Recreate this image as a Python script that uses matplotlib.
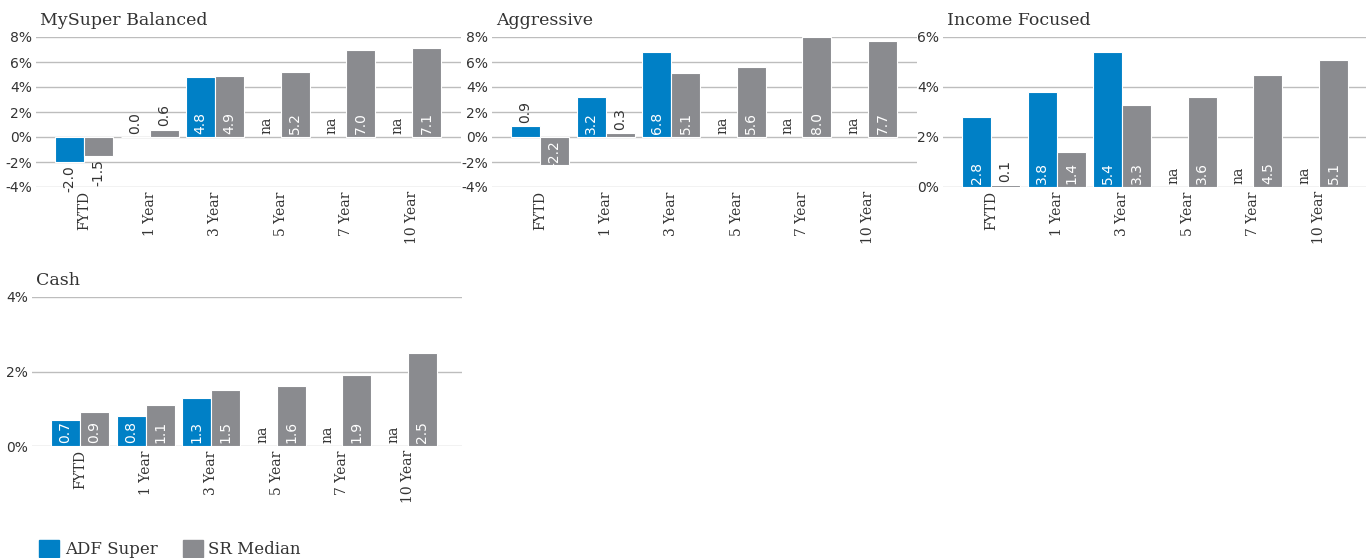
import matplotlib
matplotlib.use('Agg')
import matplotlib.pyplot as plt
from matplotlib.patches import Patch
import numpy as np

# data (na = not available)
periods = ['FYTD', '1 Year', '3 Year', '5 Year', '7 Year', '10 Year']
na = np.nan
balanced_adf = [-2.0, 0.0, 4.8, na, na, na]
balanced_sr = [-1.5, 0.6, 4.9, 5.2, 7.0, 7.1]
aggressive_adf = [0.9, 3.2, 6.8, na, na, na]
aggressive_sr = [-2.2, 0.3, 5.1, 5.6, 8.0, 7.7]
income_adf = [2.8, 3.8, 5.4, na, na, na]
income_sr = [0.1, 1.4, 3.3, 3.6, 4.5, 5.1]
cash_adf = [0.7, 0.8, 1.3, na, na, na]
cash_sr = [0.9, 1.1, 1.5, 1.6, 1.9, 2.5]

blue = '#0080c6'
grey = '#8a8b8f'
dark = '#333333'
serif = 'DejaVu Serif'
sans = 'DejaVu Sans'

W, H = 1366, 558
fig = plt.figure(figsize=(W / 100, H / 100), dpi=100)

# name, adf, sr, (left, top, width, height) in px, ylim, yticks
panels = [
    ('MySuper Balanced', balanced_adf, balanced_sr, (36, 37, 425, 150), (-4, 8), [-4, -2, 0, 2, 4, 6, 8]),
    ('Aggressive', aggressive_adf, aggressive_sr, (492, 37, 425, 150), (-4, 8), [-4, -2, 0, 2, 4, 6, 8]),
    ('Income Focused', income_adf, income_sr, (943, 37, 425, 150), (0, 6), [0, 2, 4, 6]),
    ('Cash', cash_adf, cash_sr, (32, 297, 430, 149), (0, 4), [0, 2, 4]),
]

bw = 0.442
for name, adf, sr, (l, t, w, h), ylim, yticks in panels:
    ax = fig.add_axes([l / W, 1 - (t + h) / H, w / W, h / H])
    x = np.arange(len(periods))
    ax.bar(x - bw / 2, adf, bw, color=blue, edgecolor='white', linewidth=0.8, zorder=2)
    ax.bar(x + bw / 2, sr, bw, color=grey, edgecolor='white', linewidth=0.8, zorder=2)
    ax.set_xlim(-48 / 65.6, (w - 48) / 65.6)
    ax.set_ylim(*ylim)
    ax.set_yticks(yticks)
    ax.set_yticklabels([f'{v}%' for v in yticks], fontsize=10, color=dark, family=sans)
    ax.set_xticks(x)
    ax.set_xticklabels(periods, rotation=90, fontsize=10, color=dark, family=serif)
    ax.tick_params(length=0, pad=3)
    ax.grid(axis='y', color='#bdbdbd', linewidth=1)
    ax.set_axisbelow(True)
    for s in ax.spines.values():
        s.set_visible(False)
    ax.text(4 / w, 1 + 8 / h, name, transform=ax.transAxes, fontsize=12.5, color=dark,
            family=serif, ha='left', va='bottom')

    # value labels
    px_per_unit = h / (ylim[1] - ylim[0])
    pad = (ylim[1] - ylim[0]) * 3 / h
    for xs, vals in ((x - bw / 2, adf), (x + bw / 2, sr)):
        for xi, v in zip(xs, vals):
            if np.isnan(v):
                ax.text(xi, pad, 'na', rotation=90, ha='center', va='bottom',
                        fontsize=10, color=dark, family=serif)
                continue
            inside = abs(v) * px_per_unit > 25.5
            if inside:
                y0, va, col = (pad, 'bottom', 'white') if v > 0 else (-pad, 'top', 'white')
            else:
                y0, va, col = (v + pad, 'bottom', dark) if v >= 0 else (v - pad, 'top', dark)
            ax.text(xi, y0, f'{v:.1f}', rotation=90, ha='center', va=va,
                    fontsize=10, color=col, family=sans)

handles = [Patch(color=blue), Patch(color=grey)]
fig.legend(handles, ['ADF Super', 'SR Median'], loc='lower left',
           bbox_to_anchor=(39 / W, 0.0), ncol=2, frameon=False,
           prop={'family': serif, 'size': 12}, handlelength=1.2, handleheight=1.2,
           handletextpad=0.35, columnspacing=1.5, borderpad=0, borderaxespad=0)
for txt in fig.legends[0].get_texts():
    txt.set_color(dark)

fig.savefig('out.png', dpi=100)
